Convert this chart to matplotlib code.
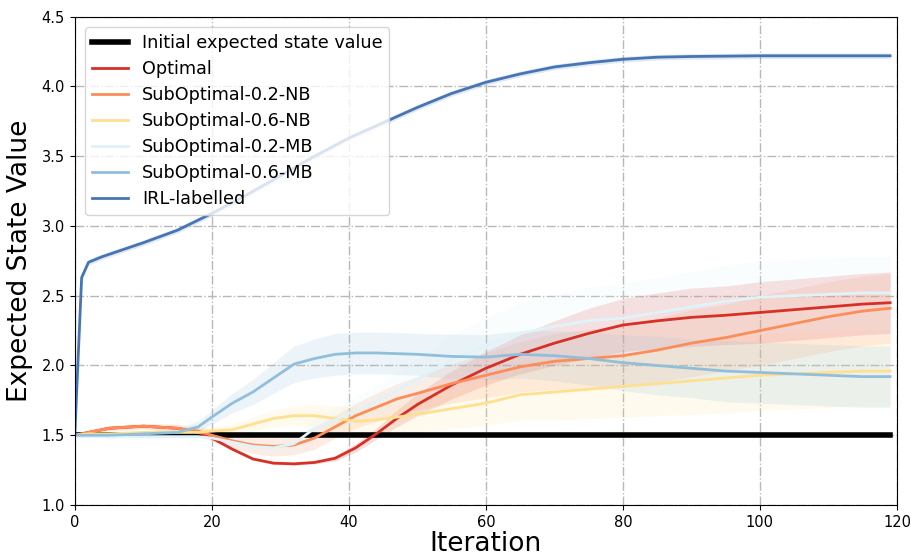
import matplotlib
matplotlib.use("Agg")
import matplotlib.pyplot as plt
import numpy as np

# iterations where values were read
it = [0, 2, 5, 10, 15, 18, 20, 23, 26, 29, 32, 35, 38, 41, 44, 47, 50, 55, 60, 65,
      70, 75, 80, 85, 90, 95, 100, 105, 110, 115, 119]

optimal = [1.50, 1.52, 1.55, 1.565, 1.55, 1.52, 1.48, 1.40, 1.33, 1.30, 1.295, 1.305, 1.335,
           1.41, 1.51, 1.62, 1.72, 1.86, 1.98, 2.08, 2.16, 2.23, 2.29, 2.32, 2.345, 2.36,
           2.38, 2.40, 2.42, 2.44, 2.45]
optimal_sd = [0.01, 0.01, 0.01, 0.01, 0.01, 0.01, 0.01, 0.01, 0.01, 0.01, 0.01, 0.01, 0.02,
              0.03, 0.04, 0.06, 0.08, 0.1, 0.12, 0.14, 0.16, 0.18, 0.19, 0.2, 0.21, 0.21,
              0.22, 0.22, 0.22, 0.22, 0.22]

sub02nb = [1.50, 1.52, 1.55, 1.565, 1.55, 1.53, 1.50, 1.46, 1.43, 1.42, 1.43, 1.48, 1.56,
           1.64, 1.70, 1.76, 1.80, 1.87, 1.93, 1.99, 2.03, 2.05, 2.07, 2.11, 2.16, 2.20,
           2.25, 2.30, 2.35, 2.39, 2.41]
sub02nb_sd = [0.01, 0.02, 0.02, 0.02, 0.03, 0.03, 0.04, 0.05, 0.06, 0.07, 0.07, 0.08, 0.08,
              0.09, 0.1, 0.11, 0.12, 0.14, 0.16, 0.18, 0.2, 0.21, 0.22, 0.23, 0.24, 0.24,
              0.25, 0.25, 0.25, 0.25, 0.25]

sub06nb = [1.50, 1.51, 1.51, 1.52, 1.52, 1.52, 1.53, 1.54, 1.58, 1.62, 1.64, 1.64, 1.62,
           1.60, 1.61, 1.63, 1.65, 1.69, 1.73, 1.79, 1.81, 1.83, 1.85, 1.87, 1.89, 1.91,
           1.93, 1.94, 1.95, 1.96, 1.96]
sub06nb_sd = [0.01, 0.01, 0.02, 0.02, 0.02, 0.03, 0.03, 0.04, 0.05, 0.06, 0.07, 0.08, 0.09,
              0.1, 0.11, 0.12, 0.13, 0.14, 0.16, 0.18, 0.2, 0.21, 0.22, 0.23, 0.24, 0.25,
              0.25, 0.25, 0.25, 0.25, 0.25]

sub02mb = [1.49, 1.49, 1.49, 1.49, 1.49, 1.49, 1.48, 1.45, 1.42, 1.41, 1.44, 1.55, 1.61,
           1.68, 1.74, 1.82, 1.90, 2.04, 2.14, 2.23, 2.28, 2.32, 2.34, 2.38, 2.42, 2.46,
           2.49, 2.50, 2.51, 2.52, 2.52]
sub02mb_sd = [0.01, 0.01, 0.02, 0.02, 0.02, 0.03, 0.03, 0.04, 0.04, 0.05, 0.06, 0.07, 0.08,
              0.1, 0.11, 0.13, 0.15, 0.18, 0.2, 0.22, 0.23, 0.24, 0.25, 0.25, 0.25, 0.26,
              0.26, 0.26, 0.26, 0.26, 0.26]

sub06mb = [1.50, 1.50, 1.50, 1.51, 1.52, 1.56, 1.63, 1.73, 1.81, 1.91, 2.01, 2.05, 2.08,
           2.09, 2.09, 2.085, 2.08, 2.065, 2.06, 2.08, 2.07, 2.05, 2.02, 2.00, 1.98, 1.96,
           1.95, 1.94, 1.93, 1.92, 1.92]
sub06mb_sd = [0.01, 0.01, 0.02, 0.02, 0.03, 0.04, 0.05, 0.07, 0.09, 0.11, 0.13, 0.14, 0.15,
              0.15, 0.15, 0.15, 0.15, 0.16, 0.16, 0.17, 0.18, 0.19, 0.2, 0.21, 0.21, 0.22,
              0.22, 0.22, 0.22, 0.22, 0.22]

irl_it = [0, 1, 2, 4, 10, 15, 20, 25, 30, 35, 40, 45, 50, 55, 60, 65, 70, 75, 80, 85, 90,
          100, 110, 119]
irl = [1.50, 2.63, 2.74, 2.78, 2.88, 2.97, 3.09, 3.22, 3.36, 3.50, 3.63, 3.74, 3.85, 3.95,
       4.03, 4.09, 4.14, 4.17, 4.195, 4.21, 4.215, 4.22, 4.22, 4.22]
irl_sd = 0.02

initial_value = 1.5

colors = ["#d73027", "#fc8d59", "#fee090", "#e0f3f8", "#91bfdb", "#4575b4"]

fig = plt.figure(figsize=(9.12, 5.58), dpi=100)
ax = fig.add_axes([0.082, 0.095, 0.9015, 0.875])

x = np.array(it)
ax.plot([it[0], it[-1]], [initial_value, initial_value], color="black", lw=4,
        label="Initial expected state value")

series = [
    ("Optimal", optimal, optimal_sd),
    ("SubOptimal-0.2-NB", sub02nb, sub02nb_sd),
    ("SubOptimal-0.6-NB", sub06nb, sub06nb_sd),
    ("SubOptimal-0.2-MB", sub02mb, sub02mb_sd),
    ("SubOptimal-0.6-MB", sub06mb, sub06mb_sd),
]
for (name, m, s), c in zip(series, colors):
    m = np.array(m)
    s = np.array(s)
    ax.plot(x, m, color=c, lw=2, label=name)
    ax.fill_between(x, m - s, m + s, color=c, alpha=0.16, lw=0, zorder=1)

xi = np.array(irl_it)
yi = np.array(irl)
ax.plot(xi, yi, color=colors[5], lw=2, label="IRL-labelled")
ax.fill_between(xi, yi - irl_sd, yi + irl_sd, color=colors[5], alpha=0.16, lw=0, zorder=1)

ax.set_xlim(0, 120)
ax.set_ylim(1.0, 4.5)
ax.set_xticks(range(0, 121, 20))
ax.set_yticks(np.arange(1.0, 4.51, 0.5))
ax.grid(True, linestyle="-.", color="#b8b8b8", lw=1)
ax.set_axisbelow(True)
ax.tick_params(labelsize=10.5)
ax.set_xlabel("Iteration", fontsize=19, labelpad=1)
ax.set_ylabel("Expected State Value", fontsize=19, labelpad=6)
ax.legend(loc="upper left", fontsize=12.7, labelspacing=0.45, borderaxespad=0.6)

fig.savefig("out.png", dpi=100)
